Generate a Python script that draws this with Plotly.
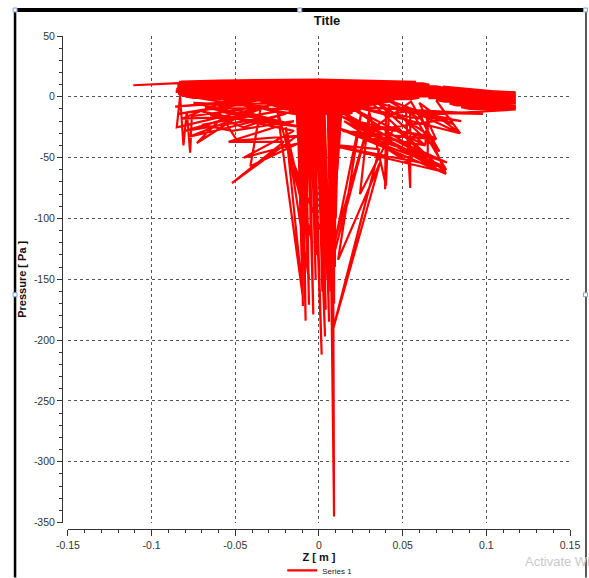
import plotly.graph_objects as go

# ---------------- data ----------------
# left tail feeding into the top band
z_tail = [-0.111, -0.100, -0.090, -0.084, -0.082]
p_tail = [9.5, 10.3, 10.8, 11.2, 12.6]

# dense top band (back-and-forth sweeps)
z_band = [-0.060, 0.000, 0.015, 0.045, 0.058, -0.083, -0.083, 0.062, 0.066, -0.084,
          -0.084, 0.070, 0.074, -0.084, -0.085, 0.078, 0.080, -0.085, -0.085, 0.082,
          0.083, -0.084, -0.083, 0.070, 0.065, -0.080, -0.075, 0.060, 0.055, -0.060,
          -0.045, 0.045, 0.040, -0.035, -0.030, 0.035, 0.030, -0.028, -0.025, 0.030,
          0.025, -0.022, -0.020, 0.025, 0.022, -0.018, -0.016, 0.020, 0.018, -0.015]
p_band = [13.4, 14.2, 13.8, 13.0, 12.2, 12.4, 11.2, 11.0, 9.8, 10.0,
          8.8, 8.6, 7.6, 7.6, 6.4, 6.4, 5.2, 5.2, 4.0, 4.0,
          2.8, 2.8, 1.6, 1.6, 0.4, 0.4, -0.8, -0.8, -2.0, -2.0,
          -3.2, -3.2, -4.4, -4.4, -5.6, -5.6, -6.8, -6.8, -8.0, -8.0,
          -9.2, -9.2, -10.4, -10.4, -11.6, -11.6, -12.8, -12.8, -14.0, -14.0]

# left fan of lines
z_left = [-0.083, -0.045, -0.086, -0.030, -0.084, -0.050, -0.020, -0.085, -0.083, -0.081,
          -0.079, -0.077, -0.076, -0.040, -0.073, -0.060, -0.025, -0.070, -0.052, -0.015,
          -0.054, -0.021, -0.052, -0.013, -0.049, -0.060, -0.035, -0.080, -0.030, -0.075,
          -0.010, -0.065, -0.045, -0.012, -0.068, -0.040, -0.082, -0.055, -0.020, -0.078,
          -0.035, -0.041, -0.012, -0.045, -0.015, -0.070, -0.050, -0.018, -0.062, -0.013]
p_left = [1.5, -4.0, -8.0, -1.5, -14.0, -7.0, -4.0, -25.0, 0.5, -40.0,
          -12.0, -46.0, -16.0, -9.0, -38.0, -20.0, -12.0, -23.0, -28.0, -20.0,
          -37.0, -37.0, -71.0, -32.0, -36.0, -12.0, -18.0, -28.0, -8.0, -5.0,
          -25.0, -15.0, -25.0, -10.0, -9.0, -16.0, -18.0, -3.0, -14.0, -33.0,
          -10.0, -57.0, -38.0, -50.0, -28.0, -12.0, -18.0, -22.0, -6.0, -5.0]

# central column of deep drops
z_core = [-0.014, -0.012, -0.013, -0.0096, -0.012, -0.010, -0.011, -0.008, -0.010, -0.009,
          -0.009, -0.006, -0.008, -0.007, -0.007, -0.0034, -0.006, -0.005, -0.005, -0.002,
          -0.004, 0.0016, -0.003, -0.001, -0.002, 0.0036, -0.001, 0.002, 0.000, 0.004,
          0.001, 0.005, 0.002, 0.006, 0.003, 0.007, 0.006, 0.009, 0.0085, 0.005,
          0.008, 0.007, 0.0085, 0.008, 0.009, 0.009, 0.0095, 0.010, 0.008, 0.011,
          0.010, 0.012, 0.009, 0.013, 0.011, 0.014, 0.012, 0.036, 0.0084, 0.0365,
          0.0114, 0.025, 0.005, 0.030, 0.007, -0.0186, -0.0096, -0.025, -0.004, -0.020,
          -0.006, -0.011, 0.010]
p_core = [2.0, -45.0, 0.0, -172.0, 3.0, -90.0, 1.0, -184.0, 4.0, -120.0,
          0.0, -171.0, 3.0, -140.0, 1.0, -179.0, 4.0, -110.0, 0.0, -150.0,
          3.0, -212.0, 1.0, -130.0, 4.0, -197.0, 0.0, -160.0, 3.0, -175.0,
          1.0, -150.0, 4.0, -185.0, 0.0, -160.0, 3.0, -345.0, -150.0, 1.0,
          -191.0, 4.0, -200.0, 0.0, -170.0, 3.0, -140.0, 1.0, -120.0, 4.0,
          -100.0, 0.0, -80.0, 3.0, -60.0, 1.0, -40.0, -43.0, -191.0, -54.0,
          -134.0, -15.0, -150.0, -20.0, -130.0, -43.0, -165.0, -10.0, -120.0, -25.0,
          -150.0, -20.0, -10.0]

# right fan of lines
z_right = [0.012, 0.084, 0.050, 0.080, 0.030, 0.076, 0.010, 0.0765, 0.012, 0.076,
           0.020, 0.0684, 0.015, 0.0545, 0.013, 0.065, 0.018, 0.0635, 0.014, 0.070,
           0.016, 0.076, 0.0545, 0.0545, 0.052, 0.040, 0.0395, 0.042, 0.040, 0.030,
           0.0245, 0.045, 0.065, 0.065, 0.0635, 0.035, 0.070, 0.060, 0.0844, 0.070,
           0.080, 0.040, 0.060, 0.020, 0.098, 0.060, 0.0755, 0.008, 0.0755, 0.018,
           0.066, 0.048, 0.072, 0.055, 0.030, 0.079, 0.045, 0.085, 0.060, 0.117]
p_right = [-5.0, -30.0, -8.0, -22.0, -3.0, -63.0, -25.0, -54.0, -15.0, -63.5,
           -30.0, -55.0, -20.0, -55.0, -12.0, -50.0, -8.0, -40.0, -28.0, -35.0,
           -18.0, -60.0, -10.0, -75.0, -12.0, -15.0, -76.0, -6.0, -73.0, -12.0,
           -80.0, -25.0, -50.0, -15.0, -40.0, -5.0, -35.0, -5.0, -30.0, -3.0,
           -22.4, -2.0, -18.0, -8.0, -14.0, -13.0, -62.0, -40.0, -58.0, -22.0,
           -32.0, -15.0, -45.0, -4.0, -28.0, -18.0, -10.0, -20.0, -15.0, -10.5]

# block on the right (0.07 .. 0.117)
z_box = [0.117, 0.090, 0.085, 0.117, 0.117, 0.082, 0.078, 0.117, 0.117, 0.075,
         0.070, 0.117, 0.117, 0.066, 0.066, 0.117, 0.117, 0.068, 0.070, 0.117,
         0.117, 0.072, 0.075, 0.117, 0.117, 0.074]
p_box = [-9.8, -10.0, -8.5, -8.3, -6.8, -7.0, -5.5, -5.3, -3.8, -4.0,
         -2.5, -2.3, -0.8, -1.0, 0.5, 0.8, 2.2, 2.0, 3.5, 3.8,
         3.8, 5.5, 6.5, 3.6, 2.8, 8.4]

x_tick_vals = [-0.15, -0.1, -0.05, 0, 0.05, 0.1, 0.15]
x_tick_text = ["-0.15", "-0.1", "-0.05", "0", "0.05", "0.1", "0.15"]
y_tick_vals = [50, 0, -50, -100, -150, -200, -250, -300, -350]
y_tick_text = ["50", "0", "-50", "-100", "-150", "-200", "-250", "-300", "-350"]

series_name = "Series 1"
chart_title = "Title"
x_title = "Z [ m ]"
y_title = "Pressure [ Pa ]"
watermark = "Activate Wi"

z_all = z_tail + z_band + z_left + z_core + z_right + z_box
p_all = p_tail + p_band + p_left + p_core + p_right + p_box

# ---------------- figure ----------------
W, H = 589, 578
ML, MR, MT, MB = 62, 18.5, 36, 48.5
PW = W - ML - MR
PH = H - MT - MB

def px(xp):
    return (xp - ML) / PW

def py(yp):
    return (H - MB - yp) / PH

FONT = "Liberation Sans"

fig = go.Figure()
fig.add_trace(go.Scatter(
    x=z_all, y=p_all, mode="lines", name=series_name,
    line=dict(color="#ff0000", width=2.2),
    showlegend=True, hoverinfo="skip",
))

fig.update_layout(
    width=W, height=H,
    margin=dict(l=ML, r=MR, t=MT, b=MB, autoexpand=False),
    paper_bgcolor="white", plot_bgcolor="white",
    font=dict(family=FONT, color="#333333", size=10),
    title=dict(text="<b>" + chart_title + "</b>", x=327 / W, xanchor="center",
               y=1 - 20 / H, yanchor="middle",
               font=dict(family=FONT, size=13, color="#111111")),
    showlegend=True,
    legend=dict(orientation="h", x=px(320), xanchor="center", y=py(571), yanchor="middle",
                font=dict(family=FONT, size=8, color="#222222"),
                bgcolor="rgba(0,0,0,0)", itemwidth=30),
    xaxis=dict(
        domain=[6 / PW, 1], range=[-0.15, 0.15], anchor="free", position=0,
        tickvals=x_tick_vals, ticktext=x_tick_text,
        showline=True, linecolor="#333333", linewidth=1,
        ticks="outside", ticklen=6, tickcolor="#333333",
        minor=dict(dtick=0.01, tick0=0, ticks="outside", ticklen=3, tickcolor="#333333", showgrid=False),
        showgrid=True, gridcolor="#555555", gridwidth=1, griddash="dot",
        zeroline=False, tickfont=dict(size=10.5, color="#333333"),
        title=dict(text="<b>" + x_title + "</b>", standoff=0,
                   font=dict(family=FONT, size=11, color="#111111")),
    ),
    yaxis=dict(
        domain=[6.5 / PH, 1], range=[-350, 50], anchor="free", position=0,
        tickvals=y_tick_vals, ticktext=y_tick_text,
        showline=True, linecolor="#333333", linewidth=1,
        ticks="outside", ticklen=5, tickcolor="#333333",
        minor=dict(dtick=10, tick0=0, ticks="outside", ticklen=3, tickcolor="#333333", showgrid=False),
        showgrid=True, gridcolor="#555555", gridwidth=1, griddash="dot",
        zeroline=False, tickfont=dict(size=10.5, color="#333333"),
        title=dict(text="<b>" + y_title + "</b>", standoff=4,
                   font=dict(family=FONT, size=11, color="#111111")),
    ),
)

# screenshot frame (black borders) and selection handles
shapes = [
    dict(type="line", xref="paper", yref="paper", x0=px(15), x1=px(587), y0=py(10), y1=py(10),
         line=dict(color="black", width=4)),
    dict(type="line", xref="paper", yref="paper", x0=px(15), x1=px(15), y0=py(10), y1=py(578),
         line=dict(color="black", width=2.5)),
    dict(type="line", xref="paper", yref="paper", x0=px(586.5), x1=px(586.5), y0=py(10), y1=py(578),
         line=dict(color="#222222", width=1.5)),
]
for hx, hy in [(15, 10), (300, 10), (586, 10), (586, 295), (15, 295)]:
    shapes.append(dict(type="rect", xref="paper", yref="paper",
                       x0=px(hx - 2), x1=px(hx + 2), y0=py(hy - 2), y1=py(hy + 2),
                       line=dict(color="#7fa3d0", width=1), fillcolor="white"))
fig.update_layout(shapes=shapes)

fig.add_annotation(text=watermark, xref="paper", yref="paper",
                   x=px(523), y=py(562), xanchor="left", yanchor="middle",
                   showarrow=False, font=dict(family=FONT, size=13, color="#c8c8c8"))

fig.write_html("out.html",
               config={"displayModeBar": False, "staticPlot": True},
               post_script="document.body.style.margin='0';document.body.style.padding='0';"
                           "document.documentElement.style.overflow='hidden';")
